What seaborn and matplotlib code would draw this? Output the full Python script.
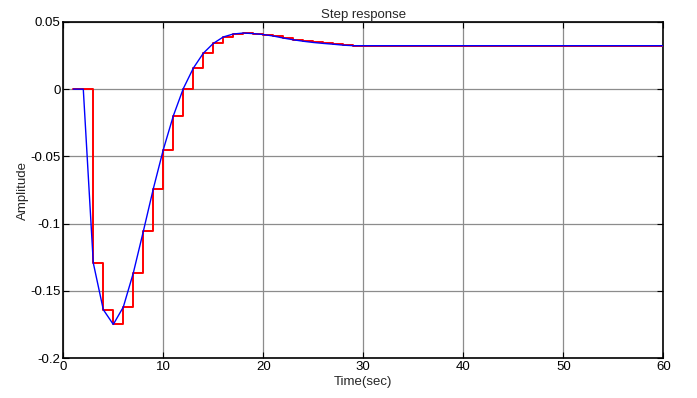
import numpy as np
import pandas as pd
import matplotlib
matplotlib.use("Agg")
import matplotlib.pyplot as plt
import seaborn as sns

# Data
time = list(range(1, 61))
amplitude = [0.0, 0.0, -0.1292, -0.1639, -0.1749, -0.1620, -0.1367, -0.1058, -0.0741, -0.0450,
             -0.0199, 0.0004, 0.0156, 0.0267, 0.0340, 0.0388, 0.0410, 0.0417, 0.0413, 0.0406,
             0.0395, 0.0380, 0.0367, 0.0356, 0.0347, 0.0340, 0.0334, 0.0327, 0.0323, 0.0323,
             0.0323, 0.0323, 0.0323, 0.0323, 0.0323, 0.0323, 0.0323, 0.0323, 0.0323, 0.0323,
             0.0323, 0.0323, 0.0323, 0.0323, 0.0323, 0.0323, 0.0323, 0.0323, 0.0323, 0.0323,
             0.0323, 0.0323, 0.0323, 0.0323, 0.0323, 0.0323, 0.0323, 0.0323, 0.0323, 0.0323]
x_ticks = [0, 10, 20, 30, 40, 50, 60]
y_ticks = [-0.2, -0.15, -0.1, -0.05, 0, 0.05]
y_tick_labels = ["-0.2", "-0.15", "-0.1", "-0.05", "0", "0.05"]

df = pd.DataFrame({"t": time, "y": amplitude})

sns.set_style("white")
plt.rcParams["font.family"] = ["Liberation Sans", "DejaVu Sans"]

fig = plt.figure(figsize=(6.97, 3.98), dpi=100)
ax = fig.add_axes([0.0908, 0.100, 0.8609, 0.845])

sns.lineplot(data=df, x="t", y="y", ax=ax, color="#ff0000", linewidth=1.4,
             drawstyle="steps-post", zorder=3)
sns.lineplot(data=df, x="t", y="y", ax=ax, color="#0000ff", linewidth=1.0, zorder=4)

ax.set_xlim(0, 60)
ax.set_ylim(-0.2, 0.05)
ax.set_xticks(x_ticks)
ax.set_xticklabels([str(v) for v in x_ticks], fontsize=9.5)
ax.set_yticks(y_ticks)
ax.set_yticklabels(y_tick_labels, fontsize=9.5)
ax.grid(True, color="#8c8c8c", linewidth=0.9, linestyle="-")
ax.set_axisbelow(True)
for s in ax.spines.values():
    s.set_color("black")
    s.set_linewidth(1.2)
ax.tick_params(direction="in", length=4, width=0.8, colors="black",
               top=True, right=True, bottom=True, left=True, pad=2)
ax.set_xlabel("Time(sec)", fontsize=9.5, labelpad=2)
ax.set_ylabel("Amplitude", fontsize=9.5, labelpad=1)
ax.set_title("Step response", fontsize=9.5, pad=3)

fig.savefig("out.png", dpi=100)
